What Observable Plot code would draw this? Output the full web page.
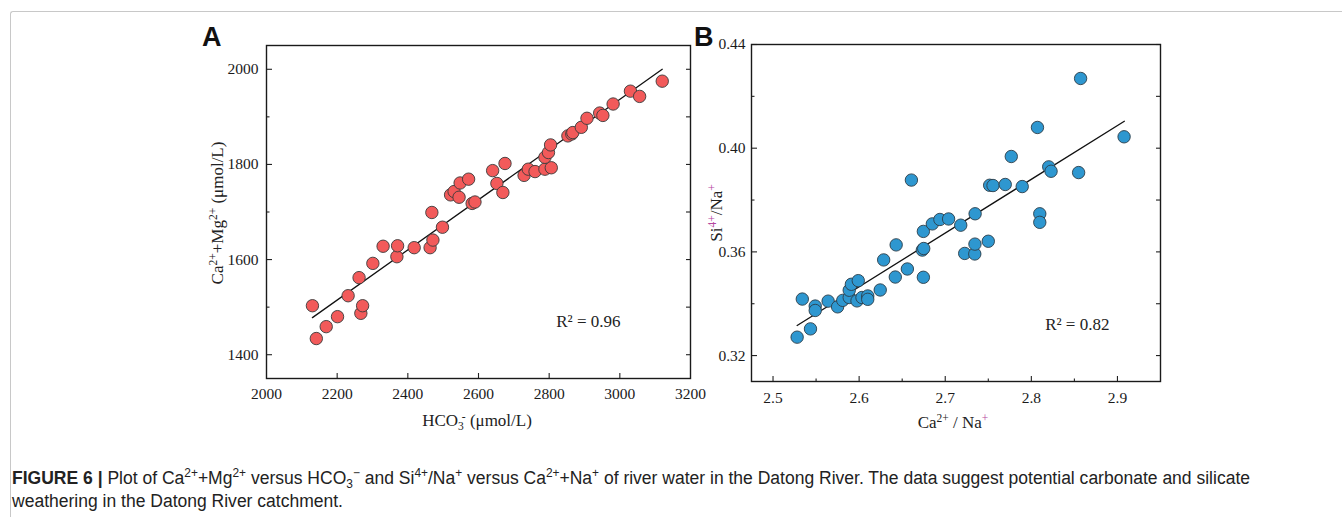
<!DOCTYPE html>
<html>
<head>
<meta charset="utf-8">
<script src="https://cdn.jsdelivr.net/npm/d3@7"></script>
<script src="https://cdn.jsdelivr.net/npm/@observablehq/plot@0.6"></script>
<style>
  html, body { margin: 0; padding: 0; background: #fff; }
  body { width: 1342px; height: 517px; position: relative; overflow: hidden; }
  #border { position: absolute; left: 10px; top: 11px; width: 1340px; height: 520px;
            border-top: 1px solid #c8c8c8; border-left: 1px solid #c8c8c8; border-top-left-radius: 3px; }
  .panel { position: absolute; }
  .letter { position: absolute; font-family: "Liberation Sans", Arial, sans-serif; font-weight: bold; font-size: 27px; color: #111; line-height: 1; }
  #cap { position: absolute; left: 12px; top: 467px; font-family: "Liberation Sans", Arial, sans-serif;
         font-size: 18px; line-height: 22.5px; color: #222; white-space: nowrap; }
  #cap .ln { transform-origin: 0 50%; display: inline-block; }
  #cap sup, #cap sub { font-size: 0.68em; line-height: 0; position: relative; vertical-align: baseline; }
  #cap sup { top: -0.55em; }
  #cap sub { top: 0.3em; }
</style>
</head>
<body>
<div id="border"></div>
<div id="panelA" class="panel" style="left:180px; top:20px;"></div>
<div id="panelB" class="panel" style="left:700px; top:20px;"></div>
<div class="letter" style="left:202px; top:24px;">A</div>
<div class="letter" style="left:694px; top:24px;">B</div>
<div id="cap"><span class="ln" id="l1"><b>FIGURE 6 |</b> Plot of Ca<sup>2+</sup>+Mg<sup>2+</sup> versus HCO<sub>3</sub><sup>−</sup> and Si<sup>4+</sup>/Na<sup>+</sup> versus Ca<sup>2+</sup>+Na<sup>+</sup> of river water in the Datong River. The data suggest potential carbonate and silicate</span><br><span class="ln" id="l2">weathering in the Datong River catchment.</span></div>
<script>
// ---------- Panel A data: HCO3- vs Ca2+ + Mg2+ (µmol/L) ----------
const hco3 = [2130, 2141, 2169, 2201, 2231, 2262, 2267, 2272, 2301, 2330, 2369, 2371, 2418, 2463, 2471, 2468,
  2498, 2521, 2531, 2545, 2548, 2572, 2582, 2590, 2640, 2652, 2669, 2675, 2729, 2741, 2760, 2788, 2806, 2788,
  2798, 2804, 2853, 2864, 2867, 2891, 2907, 2943, 2952, 2981, 3030, 3056, 3120];
const caMg = [1503, 1434, 1459, 1480, 1524, 1562, 1487, 1503, 1592, 1628, 1606, 1629, 1625, 1625, 1641, 1699,
  1668, 1736, 1743, 1731, 1761, 1769, 1718, 1721, 1787, 1760, 1741, 1802, 1777, 1790, 1785, 1790, 1793, 1815,
  1825, 1841, 1860, 1864, 1867, 1878, 1897, 1908, 1903, 1927, 1954, 1943, 1975];
const fitAx = [2130, 3120];
const fitAy = [1478, 2000];
const r2A = "R² = 0.96";

// ---------- Panel B data: Ca2+/Na+ vs Si4+/Na+ ----------
const caNa = [2.528, 2.534, 2.5435, 2.549, 2.549, 2.564, 2.575, 2.581, 2.5885, 2.5885, 2.591, 2.5975, 2.599,
  2.6033, 2.610, 2.610, 2.6245, 2.6285, 2.642, 2.643, 2.656, 2.6607, 2.6734, 2.675, 2.6746, 2.6746, 2.685,
  2.6938, 2.7039, 2.718, 2.7226, 2.7343, 2.7345, 2.7347, 2.750, 2.7516, 2.7555, 2.7697, 2.7767, 2.7894,
  2.8071, 2.8098, 2.8098, 2.8202, 2.8229, 2.8549, 2.8572, 2.9077];
const siNa = [0.3271, 0.3418, 0.3303, 0.3391, 0.3374, 0.3410, 0.3388, 0.3413, 0.3424, 0.3452, 0.3475, 0.3411,
  0.3489, 0.3424, 0.3430, 0.3417, 0.3453, 0.3569, 0.3503, 0.3627, 0.3534, 0.3877, 0.3607, 0.3613, 0.3502,
  0.3679, 0.3708, 0.3725, 0.3727, 0.3703, 0.3594, 0.3592, 0.3630, 0.3747, 0.3641, 0.3857, 0.3856, 0.3860,
  0.3968, 0.3852, 0.4080, 0.3747, 0.3714, 0.3928, 0.3911, 0.3906, 0.4269, 0.4044];
const fitBx = [2.528, 2.908];
const fitBy = [0.3316, 0.4104];
const r2B = "R² = 0.82";

// ---------- tick values ----------
const xTicksA = [2000, 2200, 2400, 2600, 2800, 3000, 3200];
const yMajorA = [1400, 1600, 1800, 2000];
const yMinorA = [1500, 1700, 1900];
const xTicksB = [2.5, 2.6, 2.7, 2.8, 2.9];
const xMinorB = [2.55, 2.65, 2.75, 2.85];
const yMajorB = [0.32, 0.36, 0.40, 0.44];
const yMinorB = [0.34, 0.38, 0.42];

const tableA = hco3.map((x, i) => ({x, y: caMg[i]}));
const tableB = caNa.map((x, i) => ({x, y: siNa[i]}));
const fitA = fitAx.map((x, i) => ({x, y: fitAy[i]}));
const fitB = fitBx.map((x, i) => ({x, y: fitBy[i]}));

const serif = "'Liberation Serif', 'Times New Roman', serif";
const baseStyle = {fontFamily: serif, fontSize: "15.5px", color: "#222", background: "transparent", overflow: "visible"};

function tickAxes(kind, vals, anchor, size) {
  const f = kind === "x" ? Plot.axisX : Plot.axisY;
  return f(vals, {anchor, tickSize: -size, fill: "none", stroke: "#222", strokeWidth: 1.1, label: null});
}
function labelAxes(kind, vals, anchor, pad, fmt) {
  const f = kind === "x" ? Plot.axisX : Plot.axisY;
  return f(vals, {anchor, tickSize: 0, tickPadding: pad, label: null, tickFormat: fmt, fill: "#1a1a1a", fontSize: 15.5});
}

const plotA = Plot.plot({
  width: 520, height: 420,
  marginLeft: 86, marginRight: 10, marginTop: 25, marginBottom: 62,
  x: {domain: [2000, 3200], label: null},
  y: {domain: [1350, 2050], label: null},
  style: baseStyle,
  marks: [
    tickAxes("y", yMajorA, "left", 6),
    tickAxes("y", yMinorA, "left", 3.5),
    tickAxes("y", yMajorA.concat(yMinorA), "right", 5),
    tickAxes("x", xTicksA.slice(1, -1), "bottom", 5),
    labelAxes("y", yMajorA, "left", 8, d => String(d)),
    labelAxes("x", xTicksA, "bottom", 9, d => String(d)),
    Plot.line(fitA, {x: "x", y: "y", stroke: "#111", strokeWidth: 1.3}),
    Plot.dot(tableA, {x: "x", y: "y", r: 6.2, fill: "#f25a5a", stroke: "#3a3a3a", strokeWidth: 0.9}),
    Plot.text([r2A], {x: 2911, y: 1469, text: d => d, fontSize: 17, fill: "#222"}),
    Plot.frame({stroke: "#1a1a1a", strokeWidth: 1.4})
  ]
});

const plotB = Plot.plot({
  width: 480, height: 420,
  marginLeft: 51, marginRight: 20, marginTop: 24, marginBottom: 59,
  x: {domain: [2.475, 2.95], label: null},
  y: {domain: [0.31, 0.44], label: null},
  style: baseStyle,
  marks: [
    tickAxes("y", yMajorB, "left", 6),
    tickAxes("y", yMinorB, "left", 3.5),
    tickAxes("y", yMajorB.concat(yMinorB), "right", 5),
    tickAxes("x", xTicksB, "bottom", 5),
    tickAxes("x", xMinorB, "bottom", 2.5),
    labelAxes("y", yMajorB, "left", 6, d => d.toFixed(2)),
    labelAxes("x", xTicksB, "bottom", 10, d => d.toFixed(1)),
    Plot.line(fitB, {x: "x", y: "y", stroke: "#111", strokeWidth: 1.3}),
    Plot.dot(tableB, {x: "x", y: "y", r: 6.2, fill: "#2e97d0", stroke: "#2d3d48", strokeWidth: 0.9}),
    Plot.text([r2B], {x: 2.8534, y: 0.3321, text: d => d, fontSize: 17, fill: "#222"}),
    Plot.frame({stroke: "#1a1a1a", strokeWidth: 1.4})
  ]
});

document.getElementById("panelA").appendChild(plotA);
document.getElementById("panelB").appendChild(plotB);

// rich-text axis titles with super/subscripts
function richText(svg, x, y, parts, rotate) {
  const t = d3.select(svg).append("text")
    .attr("text-anchor", "middle")
    .attr("font-family", serif)
    .attr("font-size", 17)
    .attr("fill", "#222")
    .attr("transform", `translate(${x},${y})` + (rotate ? ` rotate(${rotate})` : ""));
  let shift = 0;
  for (const p of parts) {
    const [txt, kind, color, dx] = p;
    const ts = t.append("tspan").text(txt);
    const target = kind === "sup" ? -6.5 : kind === "sub" ? 4 : 0;
    ts.attr("dy", target - shift);
    shift = target;
    if (kind) ts.attr("font-size", 11.5);
    if (color) ts.attr("fill", color);
    if (dx) ts.attr("dx", dx);
  }
}
const pink = "#b5489e";
richText(plotA, 43, 193, [["Ca"], ["2+", "sup"], ["+Mg"], ["2+", "sup"], [" (μmol/L)"]], -90);
richText(plotA, 297, 406, [["HCO"], ["3", "sub"], ["-", "sup", null, -2], [" (μmol/L)"]]);
richText(plotB, 22, 193, [["Si"], ["4+", "sup", pink], ["/Na"], ["+", "sup", pink]], -90);
richText(plotB, 253, 408, [["Ca"], ["2+", "sup"], [" / Na"], ["+", "sup", pink]]);

// fit caption line 1 to the reference width (layout only)
const l1 = document.getElementById("l1"), l2 = document.getElementById("l2");
const k = 1238 / l1.getBoundingClientRect().width;
l1.style.transform = `scaleX(${k})`;
l2.style.transform = `scaleX(${k})`;
</script>
</body>
</html>
